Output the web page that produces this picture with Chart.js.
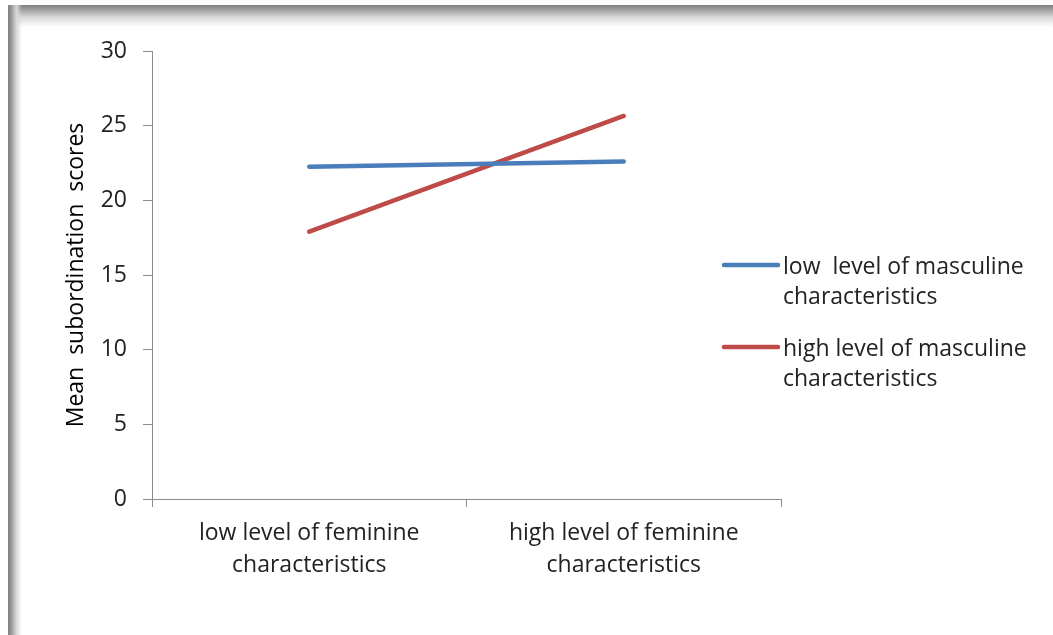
<!DOCTYPE html>
<html>
<head>
<meta charset="utf-8">
<script src="https://cdn.jsdelivr.net/npm/chart.js@4.4.0/dist/chart.umd.min.js"></script>
<style>
  html, body { margin: 0; padding: 0; background: #fff; }
  #wrap { position: relative; width: 1053px; height: 635px; overflow: hidden; }
  #myChart { position: absolute; left: 0; top: 0; }
  /* soft grey frame edges along the top and the left */
  .edge-top {
    position: absolute; left: 8px; top: 5px; right: 0; height: 22px;
    background: linear-gradient(to bottom, #7f7f7f 0%, #9a9a9a 18%, #d8d8d8 55%, rgba(255,255,255,0) 100%);
    pointer-events: none;
  }
  .edge-left {
    position: absolute; left: 8px; top: 5px; bottom: 0; width: 14px;
    background: linear-gradient(to right, #7f7f7f 0%, #9a9a9a 25%, #d8d8d8 60%, rgba(255,255,255,0) 100%);
    pointer-events: none;
  }
</style>
</head>
<body>
<div id="wrap">
  <canvas id="myChart" width="1053" height="635"></canvas>
  <div class="edge-top"></div>
  <div class="edge-left"></div>
</div>
<script>
// categories along the x axis (two lines each)
const categories = [
  ['low level of feminine', 'characteristics'],
  ['high level of feminine', 'characteristics']
];

// series names, split the way the legend shows them
const seriesNames = [
  ['low  level of masculine', 'characteristics'],
  ['high level of masculine', 'characteristics']
];

// mean subordination scores
const lowMasculine = [22.25, 22.6];
const highMasculine = [17.9, 25.65];

const yMin = 0;
const yMax = 30;
const yStep = 5;

const axisColor = '#8c8c8c';
const textColor = '#222';
const fontFamily = '"Open Sans", "Noto Sans", sans-serif';
const fontSize = 23;

// legend drawn at the right, with wrapped labels
const sideLegend = {
    id: 'sideLegend',
    afterDraw(chart) {
        const ctx = chart.ctx;
        const area = chart.chartArea;
        const x0 = area.right - 57;
        let y = 265;
        ctx.save();
        ctx.font = fontSize + 'px ' + fontFamily;
        ctx.fillStyle = textColor;
        ctx.textBaseline = 'middle';
        chart.data.datasets.forEach(ds => {
            ctx.strokeStyle = ds.borderColor;
            ctx.lineWidth = 4.5;
            ctx.lineCap = 'round';
            ctx.beginPath();
            ctx.moveTo(x0, y);
            ctx.lineTo(x0 + 54, y);
            ctx.stroke();
            ds.legendLines.forEach((line, i) => {
                ctx.fillText(line, x0 + 59, y + 2 + i * 30);
            });
            y += 82;
        });
        ctx.restore();
    }
};

const ctx = document.getElementById('myChart').getContext('2d');

const myLineChart = new Chart(ctx, {
    type: 'line',
    data: {
        labels: categories,
        datasets: [
            {
                label: seriesNames[0].join(' '),
                legendLines: seriesNames[0],
                data: lowMasculine,
                borderColor: '#4a7ebb',
                borderWidth: 4.5,
                borderCapStyle: 'round',
                pointRadius: 0,
                fill: false,
            },
            {
                label: seriesNames[1].join(' '),
                legendLines: seriesNames[1],
                data: highMasculine,
                borderColor: '#be4b48',
                borderWidth: 4.5,
                borderCapStyle: 'round',
                pointRadius: 0,
                fill: false,
            },
        ],
    },
    options: {
        responsive: false,
        animation: false,
        events: [],
        layout: {
            padding: { left: 0, top: 51, right: 272, bottom: 0 }
        },
        plugins: {
            legend: { display: false },
            tooltip: { enabled: false },
        },
        scales: {
            x: {
                offset: true,
                grid: {
                    offset: true,
                    drawOnChartArea: false,
                    drawTicks: true,
                    tickLength: 8,
                    color: axisColor,
                },
                border: { color: axisColor, width: 1 },
                ticks: {
                    color: textColor,
                    font: { family: fontFamily, size: fontSize, lineHeight: 1.39 },
                    padding: 10,
                    maxRotation: 0,
                    autoSkip: false,
                },
                afterFit(scale) { scale.height = 136; },
            },
            y: {
                min: yMin,
                max: yMax,
                grid: {
                    drawOnChartArea: false,
                    drawTicks: true,
                    tickLength: 9,
                    color: axisColor,
                },
                border: { color: axisColor, width: 1 },
                ticks: {
                    stepSize: yStep,
                    color: textColor,
                    font: { family: fontFamily, size: fontSize },
                    padding: 16,
                },
                title: {
                    display: true,
                    text: 'Mean  subordination  scores',
                    color: '#000',
                    font: { family: fontFamily, size: fontSize },
                    padding: { top: 63, bottom: 0 },
                },
                afterFit(scale) { scale.width = 152; },
            },
        },
    },
    plugins: [sideLegend],
});
</script>
</body>
</html>
